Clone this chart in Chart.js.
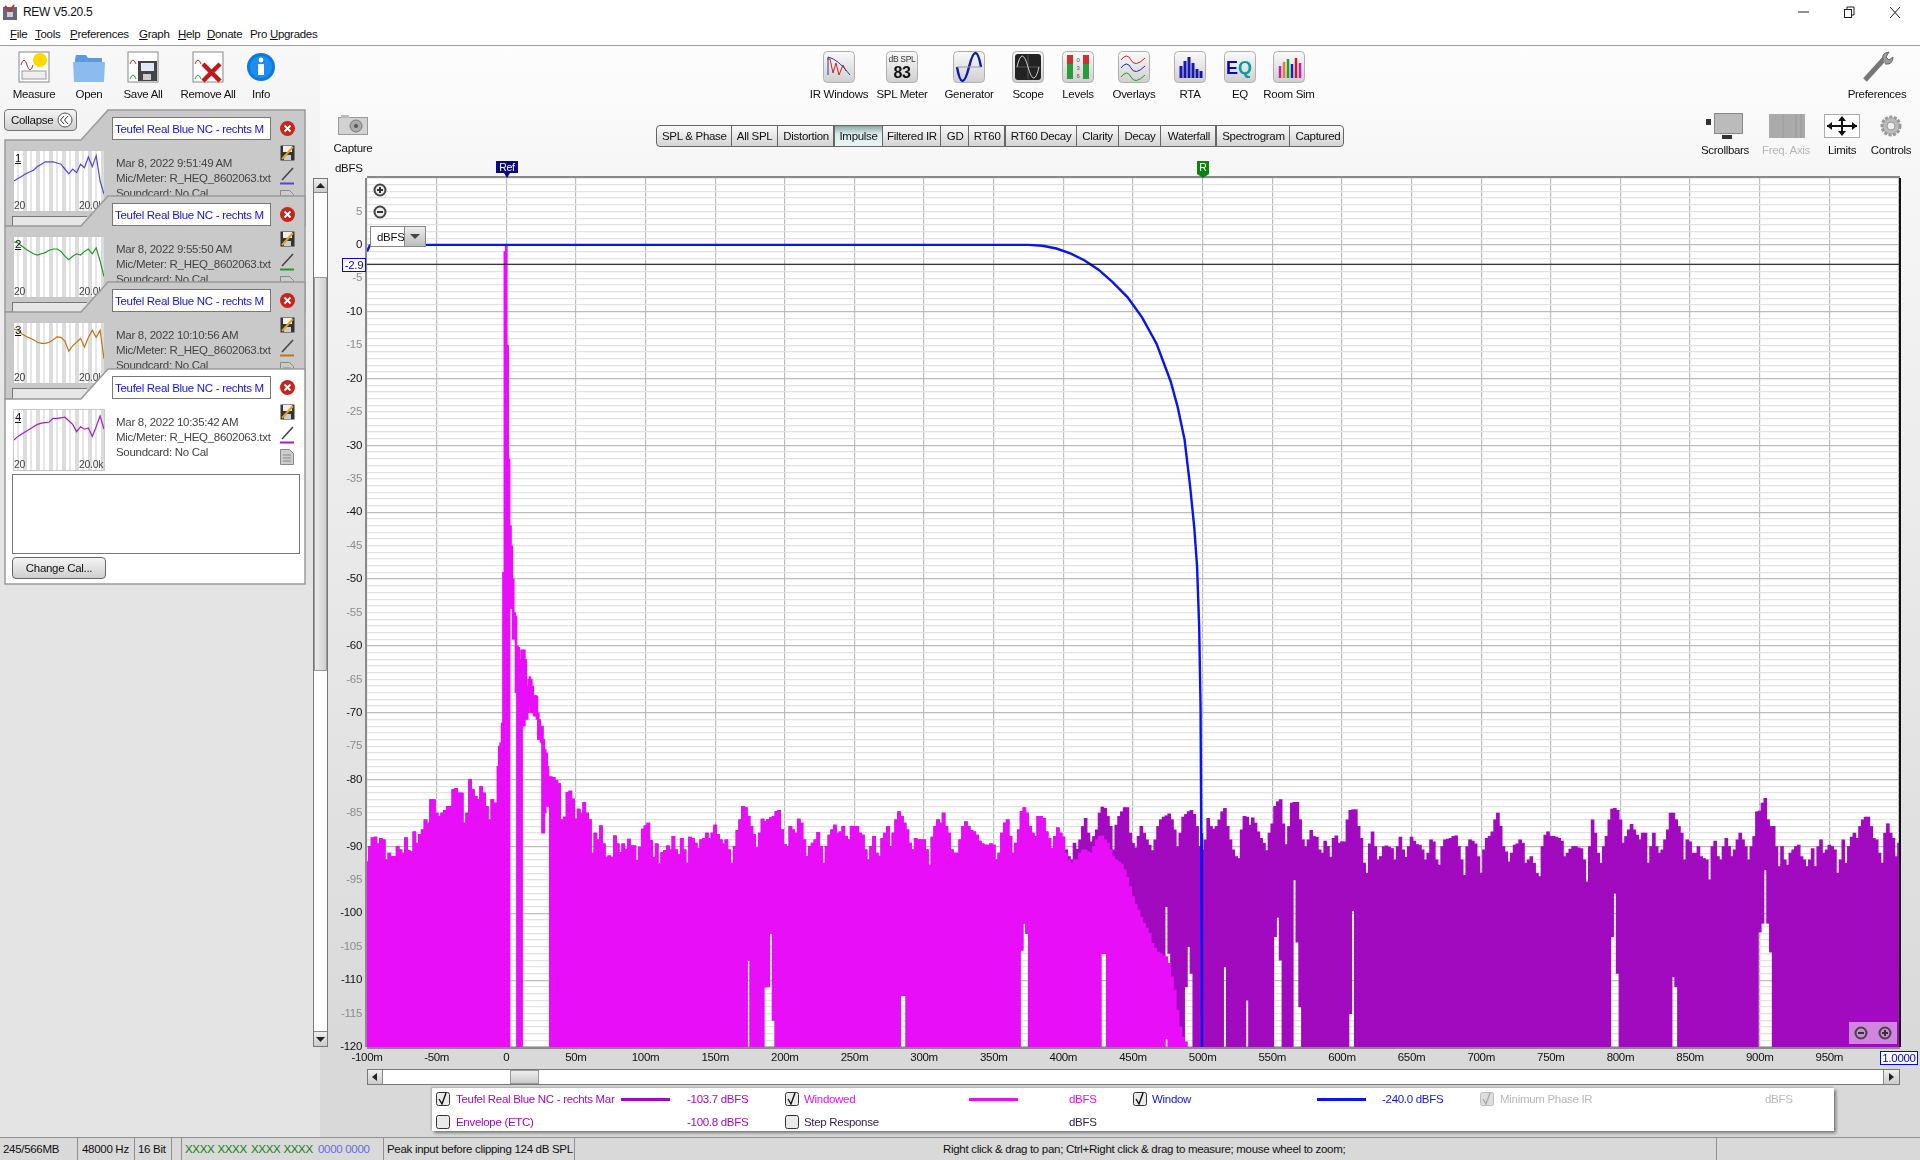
<!DOCTYPE html>
<html>
<head>
<meta charset="utf-8">
<title>REW V5.20.5</title>
<script src="https://cdn.jsdelivr.net/npm/chart.js@4/dist/chart.umd.min.js"></script>
<style>
  html, body { margin: 0; padding: 0; width: 1920px; height: 1160px; overflow: hidden; }
  body { background: linear-gradient(#fdfdfd 46px, #f6f6f6 180px, #d9d9d9 1047px); font: 11.5px "Liberation Sans", sans-serif; color: #111; letter-spacing: -.3px; }
  #ui div, #ui span { position: absolute; white-space: nowrap; box-sizing: border-box; }
  #ui svg { position: absolute; overflow: visible; }
  #under, #over { position: absolute; left: 0; top: 0; }
  #chart { position: absolute; left: 0; top: 0; }
</style>
</head>
<body>
<div id="ui">
  <div id="under"></div>
  <canvas id="chart" width="1920" height="1160"></canvas>
  <div id="over"></div>
</div>
<script>
// top of the column for the raw impulse response (dBFS), one value per 2 ms from -100 ms to 1000 ms
const noiseTop = [
  -92.3,-90,-88.7,-88.6,-89.6,-88.8,-89,-92,-91,-91.5,-91.5,-90,-90.5,-91,-88.7,-90.6,-90.8,-87.8,-89.5,-88.2,-87.5,-86,-86.5,-83,-83,
  -85,-85.5,-85,-84.6,-84,-84,-81.5,-81.3,-82,-82,-86.5,-85,-80,-81.5,-82.5,-83,-81,-82,-84,-86,-83,-83.5,null,null,null,
  null,null,null,null,null,null,null,null,null,null,null,null,null,null,null,null,-79.6,-79.7,-80.1,-80.6,-86,-85.6,-81.9,-81.7,-82.9,
  -85.9,-84.4,-85,-83.4,-85,-86,-91,-88,-89,-86.9,-89.6,-91.6,-91.4,-91.6,-88.4,-89.6,-90.9,-89.6,-90.4,-88.9,-89.9,-89.9,-92.1,-90.1,-87.4,
  -86.9,-86.5,-89.1,-91.6,-89.6,-92.6,-90.9,-90.6,-89.9,-90.5,-88.5,-90.5,-91.2,-88.8,-90.5,-92.5,-88.6,-88.8,-89.5,-90.3,-89,-88.8,-88,-88.8,-88,
  -86.8,-88.2,-89,-89.6,-89,-90.5,-92.5,-90,-87.6,-86,-84,-84.2,-85.5,-87,-88.2,-90.2,-88,-85.9,-86.3,-86,-85.7,-85.5,-84.8,-84.6,-87.5,
  -89.7,-90,-87,-87.5,-88,-85.9,-86.5,-89,-91.5,-90,-89.5,-89,-87.9,-90,-92.5,-90,-88.3,-87.5,-86.8,-88,-87.8,-87,-88.5,-89,-87,
  -87,-87,-88,-88.3,-90.5,-92,-90,-88.5,-91,-91.5,-88.8,-88,-87,-90,-88,-86,-84.8,-85.5,-86.5,-87.5,-89.5,-90.5,-88.8,-89,-89,
  -89,-90.5,-92.8,-88.6,-87,-86,-86.5,-85,-87,-88,-90.5,-91,-91,-89,-87,-86.3,-87,-87.6,-87.8,-88.3,-89.2,-89.6,-89.8,-89.8,-89.6,
  -89.8,-92,-91,-88,-86.5,-86,-88.5,-91,-89.5,-87.5,-84.8,-84.2,-85,-87,-88,-88.5,-85.5,-85.5,-85.8,-87.8,-88.8,-90.3,-88.5,-87.2,-88,
  -88.6,-90.5,-91.5,-92,-89.5,-90.4,-89,-87,-85.8,-88,-89.3,-88.5,-87.5,-85,-84.1,-84.3,-85.5,-87,-90.5,-86.8,-85.5,-84.8,-84.2,-84.2,-88,
  -89.5,-90.2,-88.5,-87,-88,-89,-89.8,-90.6,-89,-87,-86,-85.6,-85.4,-85.1,-86,-87.5,-90,-88,-85.6,-85.2,-84.8,-84.6,-85.2,-87,-90,
  -90.5,-89,-85.8,-87,-87.4,-87,-86,-84.8,-84.3,-87,-89,-90.5,-91.5,-91.8,-87.5,-85.5,-85.6,-86.8,-85.7,-86.5,-87.8,-88.8,-89.5,-90.6,-88,
  -86.6,-84,-83.3,-83,-86.6,-89.7,-87,-83.5,-83.4,-83.4,-86,-89,-90,-89,-87.6,-88.5,-88.6,-90.5,-91,-89.2,-90,-91.6,-88.8,-88.4,-89.5,
  -89.3,-89.3,-86,-84.6,-84.5,-84.5,-87,-88.8,-92.5,-94,-89.6,-87.8,-90,-92,-91.5,-90,-89.9,-90.1,-90.3,-92,-90,-88.6,-90.5,-91.6,-90,
  -88.6,-89.2,-89.7,-89.8,-90.5,-92,-91,-89,-89.3,-92,-92.8,-90,-89,-88.9,-88.8,-88.5,-88.4,-90,-92,-94.3,-90,-89,-89.2,-89.6,-91.5,
  -94,-90.5,-88.8,-88.5,-87.8,-86,-85,-87,-90,-90.8,-92.3,-91,-89.8,-89.6,-89,-89.5,-92.5,-92,-91.5,-92.5,-94,-94.5,-90,-88.3,-87.8,
  -88.5,-88.5,-88.6,-88.8,-89.2,-91.5,-91,-90.4,-90,-90,-90.2,-90.3,-92,-95.3,-90,-86,-88,-91,-92.5,-90,-88.5,-86,-84.4,-84.3,-84.6,
  -86,-89.5,-88.5,-87.5,-86.7,-87.5,-88.3,-89,-88,-88,-92.5,-90,-88,-90,-91,-90.5,-89,-87.5,-85,-85,-86,-87,-88,-92,-89,
  -89.3,-91,-91,-90,-91.5,-91.8,-92,-95,-90,-89.2,-91.5,-92,-90,-88.8,-90,-91.5,-90.5,-89,-88,-89,-90,-92,-90,-88.5,-84.8,
  -84.7,-83.5,-82.8,-86,-87,-87,-90,-93,-90,-92,-92.8,-91,-90.5,-90,-89.8,-91.5,-92,-93,-92,-90.3,-93,-90,-89,-91,-90.5,
  -89.8,-90,-90.5,-94,-92,-89,-92.5,-90,-88.6,-88,-88.8,-87,-86,-85.6,-85.6,-87,-88.8,-89,-91,-92.5,-88,-86.6,-88,-88.8,-91.5,
  -89.5
];
const binMs = 2;
const startMs = -100;

// columns that do not reach down to -120: white notches in the noise floor
const notchMs    = [174,186,188,190,192,284,286,370,372,374,428,430,474,476,488,490,492,516,532,552,554,556,566,568,570,606,608,794,796,798,838,840,900,902,904,906,908];
const notchFloor = [-107,-111,-111,-103,-116,-112.3,-112.3,-105.5,-101.5,-103,-106,-106,-99,-106,-111,-105,-109,-108,-113,-103.5,-100.6,-107,-95,-104.3,-114,-115,-99.6,-103.5,-97,-109,-109.5,-111,-102.8,-101.5,-93.5,-101.5,-105.8];

// windowed trace follows the raw one up to 400 ms, then falls away under the window
const windowedSharedUntilMs = 400;
const windowedTail = [-91,-92,-92.5,-92,-92,-91,-90.5,-90.5,-90.8,-91,-90,-89,-88.5,-88.4,-89,-89.5,-90.5,-91.5,-92,-92.3,-92.6,-93.5,-94.6,-96,-97.5,-98.7,-99.5,-100.6,-101.5,-102.2,-103,-104.5,-105.2,-105.8,-106,-106.3,-106.5,-107.5,-109.5,-111.5,-114.5,-117,-118.5,-119.2];

// the impulse itself, 1 ms columns
const peakMs  = [-6,-5,-4,-3,-2,-1,0,1,2,3,4,5,6,7,8,9,10,11,12,13,14,15,16,17,18,19,20,21,22,23,24,25,26,27,28,29,30];
const peakTop = [-78,-75,-74.5,-71.5,-49,-1,0,-15,-32,-42,-45,-50,-55,-55.5,-60,-60.2,-62,-60.6,-60.6,-60.6,-62,-66,-65,-64.6,-65,-66,-67.4,-67.4,-67.5,-70,-71,-72,-72,-74,-75.5,-76,-78];
const peakLow = [-120,-120,-120,-120,-120,-120,-120,-120,-120,-54.4,-54.4,-59,-59,-67,-120,-120,-120,-120,-72,-72,-71,-71,-70,-69,-70,-70,-70.5,-70.5,-71,-74,-74,-74.5,-88,-88,-85,-84,-84];

// window curve
const windowMs = [-100,-98,-96,375,385,395,405,415,425,435,446,456.5,467,477,482,487,491,494,496,497.5,498.5,499,499.5,499.5];
const windowDb = [-1,-0.1,0,0,-0.14,-0.55,-1.27,-2.3,-3.68,-5.49,-7.82,-10.84,-14.83,-20.4,-24.2,-29.1,-36.1,-42.3,-48.1,-57,-69,-88,-105,-120];

const cursorDb = -2.9;

// measurement panel thumbnails
const thumbTraces = [
  [50,54,58,62,65,68,74,78,82,82,82,80,78,70,62,70,64,78,72,90,74,92,50,28],
  [92,90,85,80,76,72,70,72,74,78,80,80,76,68,62,68,72,70,76,80,72,82,60,34],
  [90,88,82,78,75,72,68,66,66,68,72,77,76,70,53,62,68,74,60,76,88,76,88,40],
  [50,56,60,64,68,72,76,78,79,80,86,86,87,88,82,76,64,72,68,70,56,72,90,68]
];
const thumbColors = ['#4a4ad8', '#1f9a2a', '#c07418', '#a41fc4'];
const thumbTimes = ['Mar 8, 2022 9:51:49 AM', 'Mar 8, 2022 9:55:50 AM', 'Mar 8, 2022 10:10:56 AM', 'Mar 8, 2022 10:35:42 AM'];

const MAGENTA = '#e80ff8';
const PURPLE = '#a10abf';
const BLUE = '#0a14f0';

function columns(times, tops, floorOf) {
  const out = [];
  times.forEach((t, i) => {
    if (tops[i] !== null) out.push({ x: t, y: [floorOf(t, i), tops[i]] });
  });
  return out;
}
const rawMs = noiseTop.map((_, i) => startMs + i * binMs);
const floorAt = t => {
  const i = notchMs.indexOf(t);
  return i < 0 ? -120 : notchFloor[i];
};
const windowedTop = noiseTop.slice(0, (windowedSharedUntilMs - startMs) / binMs + 1).concat(windowedTail);
const windowedMs = windowedTop.map((_, i) => startMs + i * binMs);
const windowedFloor = t => (t === 474 ? -118.8 : t < 440 ? floorAt(t) : -120);

Chart.defaults.font.family = '"Liberation Sans", sans-serif';

new Chart(document.getElementById('chart'), {
  type: 'bar',
  data: {
    datasets: [
      { type: 'line', data: [{ x: -100, y: cursorDb }, { x: 1000, y: cursorDb }], borderColor: '#000', borderWidth: 1.2, pointRadius: 0, order: 0 },
      { type: 'line', data: windowMs.map((t, i) => ({ x: t, y: windowDb[i] })), borderColor: BLUE, borderWidth: 2.4, pointRadius: 0, order: 1 },
      { data: peakMs.map((t, i) => ({ x: t, y: [peakLow[i], peakTop[i]] })), backgroundColor: MAGENTA, barThickness: 2, grouped: false, order: 2 },
      { data: columns(windowedMs, windowedTop, windowedFloor), backgroundColor: MAGENTA, barThickness: 3, grouped: false, order: 3 },
      { data: columns(rawMs, noiseTop, floorAt), backgroundColor: PURPLE, barThickness: 3, grouped: false, order: 4 }
    ]
  },
  options: {
    responsive: false,
    animation: false,
    events: [],
    layout: { padding: { left: 320, right: 21, top: 178, bottom: 83 } },
    plugins: { legend: { display: false }, tooltip: { enabled: false } },
    scales: {
      x: {
        type: 'linear', min: -100, max: 1000, offset: false,
        afterFit: s => { s.height = 30; },
        border: { display: false },
        grid: { offset: false, color: '#bcbcbc', lineWidth: 1.2, drawTicks: false },
        ticks: {
          stepSize: 50, autoSkip: false, maxRotation: 0, padding: 4, color: '#111', font: { size: 11.5 },
          callback: v => (v === 1000 ? '' : v === 0 ? '0' : v + 'm')
        }
      },
      y: {
        min: -120, max: 10,
        afterFit: s => { s.width = 47; },
        border: { display: false },
        grid: { color: c => (c.tick.value % 10 === 0 ? '#bcbcbc' : '#e2e2e2'), lineWidth: 1.2, drawTicks: false },
        ticks: {
          stepSize: 1, autoSkip: false, padding: 5, font: { size: 11.5 },
          color: c => (c.tick.value % 10 === 0 ? '#111' : '#8c8c8c'),
          callback: v => (v % 5 === 0 && v !== 10 ? String(v) : '')
        }
      }
    }
  }
});

// ---- window furniture around the plot ----
const under = document.getElementById('under');
const over = document.getElementById('over');

function box(parent, x, y, w, h, css, html) {
  const d = document.createElement('div');
  d.style.cssText = `left:${x}px;top:${y}px;width:${w}px;height:${h}px;${css || ''}`;
  if (html) d.innerHTML = html;
  parent.appendChild(d);
  return d;
}
function label(parent, str, x, y, css, anchor) {
  const d = document.createElement('span');
  const tx = anchor === 'c' ? 'transform:translateX(-50%);' : anchor === 'r' ? 'transform:translateX(-100%);' : '';
  d.style.cssText = `left:${x}px;top:${y - 8}px;height:16px;line-height:16px;${tx}${css || ''}`;
  d.innerHTML = str;
  parent.appendChild(d);
  return d;
}
function svg(parent, x, y, w, h, inner) {
  const d = document.createElement('div');
  d.style.cssText = `left:${x}px;top:${y}px;width:${w}px;height:${h}px;`;
  d.innerHTML = `<svg width="${w}" height="${h}" viewBox="0 0 ${w} ${h}" style="left:0;top:0">${inner}</svg>`;
  parent.appendChild(d);
}

// plot background sits under the canvas
box(under, 367, 178, 1532, 869, 'background:#fff');
box(under, 0, 46, 320, 1091, 'background:linear-gradient(#f8f8f8,#e4e4e4 40%)');
box(under, 320, 1047, 1600, 90, 'background:#d9d9d9');

// title bar and menu
box(over, 0, 0, 1920, 46, 'background:#fff');
box(over, 0, 45, 1920, 1, 'background:#a0a0a0');
svg(over, 2, 3, 16, 18, '<rect x="1" y="4" width="14" height="13" fill="#667"/><path d="M3 3l5 5 4-6" stroke="#b33" stroke-width="2" fill="none"/><rect x="5" y="9" width="6" height="5" fill="#ccd"/>');
label(over, 'REW V5.20.5', 23, 12, 'font-size:12px');
[['<u>F</u>ile', 10], ['<u>T</u>ools', 35], ['<u>P</u>references', 70], ['<u>G</u>raph', 139], ['<u>H</u>elp', 178], ['<u>D</u>onate', 207], ['Pro <u>U</u>pgrades', 250]]
  .forEach(m => label(over, m[0], m[1], 34));
svg(over, 1795, 4, 110, 16, '<path d="M3 8h11" stroke="#222"/><rect x="49.5" y="5.5" width="7" height="8" fill="#fff" stroke="#222"/><path d="M52 5V3h7v8h-2" fill="none" stroke="#222"/><path d="M95 3l10 11M105 3l-10 11" stroke="#222"/>');

// toolbar
const tile = inner => `<rect x=".5" y=".5" width="31" height="31" rx="4" fill="url(#tg)" stroke="#b0b0b0"/>${inner}`;
svg(over, 0, 0, 1, 1, '<defs><linearGradient id="tg" x1="0" y1="0" x2="0" y2="1"><stop offset="0" stop-color="#fafafa"/><stop offset="1" stop-color="#cfcfcf"/></linearGradient></defs>');
const doc = '<rect x="1" y="1" width="30" height="30" fill="#fff" stroke="#888"/>';
const leftIcons = [
  ['Measure', 34, doc + '<path d="M3 14q3-10 6 0t6 0" stroke="#c22" fill="none"/><circle cx="22" cy="9" r="7" fill="#ffd800"/><rect x="4" y="20" width="24" height="8" fill="#eee" stroke="#999"/>'],
  ['Open', 89, '<path d="M2 8l1-4h10l2 3h14v4H2z" fill="#5a9be0"/><path d="M0 11h32l-1 20H1z" fill="#8cbcef"/>'],
  ['Save All', 143, doc + '<path d="M3 13q3-8 6 0" stroke="#c22" fill="none"/><path d="M3 28q3-8 6 0" stroke="#2a2" fill="none"/><rect x="11" y="10" width="19" height="20" fill="#444"/><rect x="14" y="12" width="13" height="8" fill="#dfe8f5"/><rect x="16" y="23" width="8" height="6" fill="#ccc"/>'],
  ['Remove All', 208, doc + '<path d="M3 13q3-8 6 0" stroke="#c22" fill="none"/><path d="M3 28q3-8 6 0" stroke="#2a2" fill="none"/><path d="M11 13l17 17M28 13L11 30" stroke="#c01818" stroke-width="4.5"/>']
];
leftIcons.forEach(ic => {
  svg(over, ic[1] - 16, 51, 32, 32, ic[2]);
  label(over, ic[0], ic[1], 94, '', 'c');
});
svg(over, 247, 53, 28, 28, '<circle cx="14" cy="14" r="14" fill="#0c7be0"/><circle cx="14" cy="14" r="11" fill="#1d8ef0"/><circle cx="14" cy="7" r="2.4" fill="#fff"/><rect x="11" y="11" width="6" height="11" fill="#fff"/>');
label(over, 'Info', 261, 94, '', 'c');

const toolIcons = [
  ['IR Windows', 839, '<path d="M4 8h3l3 14 3-10 3 12 4-10 3 6" stroke="#c22" fill="none"/><path d="M5 24V6q10 2 22 18" stroke="#14a" fill="none"/>'],
  ['SPL Meter', 902, '<text x="16" y="11" font-size="8.5" text-anchor="middle" fill="#333">dB SPL</text><text x="16" y="27" font-size="16" font-weight="bold" text-anchor="middle" fill="#111">83</text>'],
  ['Generator', 969, '<path d="M4 16q5 28 12 0t12 0" stroke="#0a1ab0" stroke-width="2.4" fill="none" transform="translate(0,0)"/><path d="M4 16h24" stroke="#99a"/>'],
  ['Scope', 1028, '<rect x="3" y="3" width="26" height="26" rx="3" fill="#222"/><path d="M4 16h24M16 4v24" stroke="#555"/><path d="M5 16q5-22 11 0t11 0" stroke="#ccc" fill="none"/>'],
  ['Levels', 1078, '<rect x="5" y="4" width="6" height="24" fill="#2b9a3a"/><rect x="5" y="4" width="6" height="9" fill="#d03030"/><rect x="21" y="4" width="6" height="24" fill="#2b9a3a"/><rect x="21" y="4" width="6" height="9" fill="#d03030"/><text x="16" y="11" font-size="6" text-anchor="middle" fill="#555">0</text><text x="16" y="19" font-size="6" text-anchor="middle" fill="#555">3</text><text x="16" y="27" font-size="6" text-anchor="middle" fill="#555">6</text>'],
  ['Overlays', 1134, '<path d="M3 9q6-8 10 0t14-2" stroke="#c22" fill="none"/><path d="M3 17q6-8 10 0t14-2" stroke="#22c" fill="none"/><path d="M3 26q6-8 10 0t14-2" stroke="#292" fill="none"/>'],
  ['RTA', 1190, '<path d="M7 27V15M11 27V10M15 27V6M19 27V12M23 27V18M27 27V20" stroke="#1616b0" stroke-width="3"/>'],
  ['EQ', 1240, '<text x="2" y="23" font-size="18" font-weight="bold" fill="#0a0aa8">E</text><text x="14" y="23" font-size="18" font-weight="bold" fill="#0a9aa0">Q</text>'],
  ['Room Sim', 1289, '<path d="M7 27V15" stroke="#c01cc0" stroke-width="2.5"/><path d="M11 27V11" stroke="#e08020" stroke-width="2.5"/><path d="M15 27V8" stroke="#20a020" stroke-width="2.5"/><path d="M19 27V13" stroke="#2020c0" stroke-width="2.5"/><path d="M23 27V7" stroke="#c02020" stroke-width="2.5"/><path d="M27 27V12" stroke="#c01cc0" stroke-width="2.5"/>']
];
toolIcons.forEach(ic => {
  svg(over, ic[1] - 16, 51, 32, 32, tile(ic[2]));
  label(over, ic[0], ic[1], 94, '', 'c');
});
svg(over, 1861, 51, 32, 32, '<path d="M4 29L23 8" stroke="#777" stroke-width="5"/><path d="M22 9q-2-7 6-8l-3 5 3 3 4-3q0 8-8 7" fill="#999" stroke="#666"/>');
label(over, 'Preferences', 1877, 94, '', 'c');

// capture, right hand tools
svg(over, 338, 115, 30, 20, '<rect x=".5" y="2.5" width="29" height="17" fill="#d2d2d2" stroke="#999"/><rect x="3" y="0" width="8" height="3" fill="#bbb"/><circle cx="18" cy="11" r="6" fill="#aaa" stroke="#777"/><circle cx="18" cy="11" r="2" fill="#555"/>');
label(over, 'Capture', 353, 148, '', 'c');
svg(over, 1706, 113, 38, 26, '<rect x="8.5" y=".5" width="28" height="20" fill="#bbb" stroke="#888"/><rect x="0" y="6" width="5" height="6" fill="#333"/><rect x="16" y="22" width="10" height="4" fill="#333"/>');
label(over, 'Scrollbars', 1725, 150, '', 'c');
svg(over, 1769, 114, 36, 24, '<rect width="36" height="24" fill="#aaa"/><path d="M14 0v24M27 0v24M32 0v24" stroke="#999"/>');
label(over, 'Freq. Axis', 1786, 150, 'color:#b5b5b5', 'c');
svg(over, 1824, 114, 36, 24, '<rect x=".5" y=".5" width="35" height="23" fill="#fff" stroke="#aaa"/><path d="M18 3v18M3 12h30" stroke="#111" stroke-width="2"/><path d="M14 7l4-5 4 5zM14 17l4 5 4-5zM8 8l-5 4 5 4zM28 8l5 4-5 4z" fill="#111"/>');
label(over, 'Limits', 1842, 150, '', 'c');
svg(over, 1880, 115, 22, 22, '<circle cx="11" cy="11" r="9" fill="#bbb" stroke="#999" stroke-width="3" stroke-dasharray="3 1.5"/><circle cx="11" cy="11" r="4" fill="#eee" stroke="#999"/>');
label(over, 'Controls', 1891, 150, '', 'c');

// graph tabs
const tabNames = ['SPL &amp; Phase', 'All SPL', 'Distortion', 'Impulse', 'Filtered IR', 'GD', 'RT60', 'RT60 Decay', 'Clarity', 'Decay', 'Waterfall', 'Spectrogram', 'Captured'];
const tabEdges = [656, 730.6, 776.7, 833.5, 881.6, 940.4, 967.8, 1004.5, 1075.5, 1117.6, 1160.4, 1215.5, 1289.4, 1344.5];
tabNames.forEach((n, i) => {
  const on = n === 'Impulse';
  const w = tabEdges[i + 1] - tabEdges[i];
  const rad = i === 0 ? 'border-radius:4px 0 0 4px;' : i === tabNames.length - 1 ? 'border-radius:0 4px 4px 0;' : '';
  const bg = on ? 'linear-gradient(#8fa5a5,#d8ecec 40%,#e8f4f4)' : 'linear-gradient(#fafafa,#d4d4d4)';
  const b = box(over, tabEdges[i], 125, w + (i === tabNames.length - 1 ? 0 : 1), 22, `background:${bg};border:1px solid #666;${rad}`);
  label(b, n, w / 2, 10, '', 'c');
});

// plot frame, markers and overlays
box(over, 367, 176, 1533, 2, 'background:#8a8a8a');
box(over, 365, 178, 2, 869, 'background:#8a8a8a');
box(over, 1899, 178, 1.5, 869, 'background:#111');
box(over, 367, 1047, 1533, 1.5, 'background:#8a8a8a');
label(over, 'dBFS', 335, 168);
svg(over, 496, 161, 22, 17, `<path d="M0 0h22v12h-8l-3 5-3-5H0z" fill="#0a0a80"/><text x="11" y="10" font-size="10.5" fill="#fff" text-anchor="middle">Ref</text>`);
svg(over, 1197, 161, 12, 17, `<path d="M0 0h12v13l-6 4-6-4z" fill="#0c840c"/><text x="6" y="10" font-size="10.5" fill="#fff" text-anchor="middle">R</text>`);
const zoomIcon = (plus) => `<circle cx="7" cy="7" r="5.5" fill="#eee" stroke="#444" stroke-width="2"/><path d="M4 7h6${plus ? 'M7 4v6' : ''}" stroke="#333" stroke-width="2"/>`;
svg(over, 373, 183, 14, 14, zoomIcon(true));
svg(over, 373, 205, 14, 14, zoomIcon(false));
const dd = box(over, 370, 226, 56, 21, 'background:#fff;border:1px solid #888');
label(dd, 'dBFS', 6, 10);
box(dd, 33, 0, 21, 19, 'background:linear-gradient(#eee,#bbb);border-left:1px solid #888', '<svg width="21" height="19"><path d="M5 7h10l-5 5z" fill="#444"/></svg>');
const curBox = box(over, 342, 258, 24, 14, 'background:#fff;border:1px solid #00f;');
label(curBox, '-2.9', 11, 6, 'color:#00f', 'c');
const endBox = box(over, 1880, 1051, 38, 14, 'background:#fff;border:1.5px solid #00f;');
label(endBox, '1.0000', 18, 5.5, 'color:#00f', 'c');
box(over, 1849, 1022, 48, 22, 'background:rgba(255,255,255,.5)');
svg(over, 1854, 1026, 14, 14, zoomIcon(false).replace('#eee', 'none'));
svg(over, 1878, 1026, 14, 14, zoomIcon(true).replace('#eee', 'none'));

// scrollbars
box(over, 313, 178, 15, 869, 'background:#fff;border:1px solid #777');
box(over, 314, 179, 13, 14, 'background:linear-gradient(#eee,#ccc);border-bottom:1px solid #888', '<svg width="13" height="14"><path d="M2 9h9L6.500 4z" fill="#222"/></svg>');
box(over, 314, 277, 13, 394, 'background:linear-gradient(90deg,#ececec,#cfcfcf);border:1px solid #999');
box(over, 314, 1031, 13, 15, 'background:linear-gradient(#eee,#ccc);border-top:1px solid #888', '<svg width="13" height="14"><path d="M2 5h9L6.500 10z" fill="#222"/></svg>');
box(over, 367, 1069, 1533, 16, 'background:#fff;border:1px solid #777');
box(over, 368, 1070, 15, 14, 'background:linear-gradient(#eee,#ccc);border-right:1px solid #888', '<svg width="14" height="14"><path d="M9 3v8L4 7z" fill="#222"/></svg>');
box(over, 510, 1070, 29, 14, 'background:linear-gradient(#eee,#ccc);border:1px solid #999');
box(over, 1883, 1070, 16, 14, 'background:linear-gradient(#eee,#ccc);border-left:1px solid #888', '<svg width="14" height="14"><path d="M5 3v8l5-4z" fill="#222"/></svg>');

// legend panel
box(over, 432, 1088, 1402, 43, 'background:#fff;box-shadow:2px 2px 3px #777,-1px -1px 2px #aaa');
function check(x, y, on, dim) {
  const c = dim ? '#bdbdbd' : '#333';
  svg(over, x, y - 7, 14, 14, `<rect x=".5" y=".5" width="13" height="13" rx="2" fill="${dim ? '#ddd' : '#eaeaea'}" stroke="${c}"/>` + (on ? `<path d="M3 7l3 5 4-11" fill="none" stroke="${dim ? '#aaa' : '#111'}" stroke-width="1.4"/>` : ''));
}
function swatch(x, w, y, col) { box(over, x, y - 1, w, 2.5, `background:${col}`); }
const legRow1 = 1099, legRow2 = 1122;
check(436, legRow1, true);
label(over, 'Teufel Real Blue NC - rechts Mar', 456, legRow1, `color:${PURPLE};width:162px;overflow:hidden;`);
swatch(621, 49, legRow1, PURPLE);
label(over, '-103.7 dBFS', 687, legRow1, `color:${PURPLE}`);
check(785, legRow1, true);
label(over, 'Windowed', 804, legRow1, `color:${MAGENTA}`);
swatch(969, 49, legRow1, MAGENTA);
label(over, 'dBFS', 1069, legRow1, `color:${MAGENTA}`);
check(1133, legRow1, true);
label(over, 'Window', 1152, legRow1, 'color:#1414e0');
swatch(1317, 49, legRow1, BLUE);
label(over, '-240.0 dBFS', 1382, legRow1, 'color:#1414e0');
check(1480, legRow1, true, true);
label(over, 'Minimum Phase IR', 1500, legRow1, 'color:#b8b8b8');
label(over, 'dBFS', 1765, legRow1, 'color:#b8b8b8');
check(436, legRow2, false);
label(over, 'Envelope (ETC)', 456, legRow2, `color:${PURPLE}`);
label(over, '-100.8 dBFS', 687, legRow2, `color:${PURPLE}`);
check(785, legRow2, false);
label(over, 'Step Response', 804, legRow2, 'color:#35204a');
label(over, 'dBFS', 1069, legRow2, 'color:#35204a');

// status bar
box(over, 0, 1137, 1920, 23, 'background:#d9d9d9;border-top:1.5px solid #8f8f8f');
[77, 133.5, 171, 181, 383, 574, 1716].forEach(x => box(over, x, 1138, 1, 22, 'background:#8f8f8f'));
const statusY = 1149;
label(over, '245/566MB', 3, statusY);
label(over, '48000 Hz', 82, statusY);
label(over, '16 Bit', 138, statusY);
label(over, 'XXXX XXXX', 185, statusY, 'color:#0c800c');
label(over, 'XXXX XXXX', 251, statusY, 'color:#0c800c');
label(over, '0000 0000', 318, statusY, 'color:#6a6ae0');
label(over, 'Peak input before clipping 124 dB SPL', 387, statusY);
label(over, 'Right click &amp; drag to pan; Ctrl+Right click &amp; drag to measure; mouse wheel to zoom;', 943, statusY);

// measurement panel
const cardTops = [110, 196, 282, 369];
const collapse = box(over, 4, 109, 73, 22, 'background:linear-gradient(#f4f4f4,#cfcfcf);border:1px solid #777;border-radius:4px');
label(collapse, 'Collapse', 6, 10);
svg(collapse, 52, 2, 16, 16, '<circle cx="8" cy="8" r="7" fill="#fff" stroke="#555"/><path d="M7 4L3.500 8 7 12M11 4L7.500 8l3.500 4" fill="none" stroke="#333"/>');

const stripes = 'repeating-linear-gradient(90deg,#fff 0 3px,#e6e6e6 3px 5px,#fff 5px 9px,#dcdcdc 9px 13px)';
cardTops.forEach((top, i) => {
  const active = i === cardTops.length - 1;
  const bottom = active ? 584 : cardTops[i + 1] + 30;
  const fill = active ? '#fff' : '#c9c9c9';
  const h = bottom - top;
  svg(over, 5, top, 300, h, `<path d="M0 30h76L103 0h197v${h}H0z" fill="${fill}" stroke="#9a9a9a" stroke-width="1.5"/>`);
  box(over, 112, top + 7, 159, 23, 'background:#fff;border:1px solid #777');
  label(over, 'Teufel Real Blue NC - rechts M', 115, top + 19, 'color:#1212e8;width:154px;overflow:hidden');
  svg(over, 280, top + 11, 15, 15, '<circle cx="7.500" cy="7.500" r="7.500" fill="#c8231c"/><path d="M4.500 4.500l6 6M10.500 4.500l-6 6" stroke="#fff" stroke-width="2"/>');
  box(over, 13, top + 40, 92, 62, `background:${stripes};border:1px solid #c8c8c8`);
  const cv = document.createElement('canvas');
  cv.width = 90; cv.height = 60;
  cv.style.cssText = `position:absolute;left:14px;top:${top + 41}px`;
  over.appendChild(cv);
  new Chart(cv, {
    type: 'line',
    data: { labels: thumbTraces[i].map((_, k) => k), datasets: [{ data: thumbTraces[i], borderColor: thumbColors[i], borderWidth: 1.2, pointRadius: 0 }] },
    options: {
      responsive: false, animation: false, events: [],
      layout: { padding: 0 },
      plugins: { legend: { display: false }, tooltip: { enabled: false } },
      scales: { x: { display: false }, y: { display: false, min: 0, max: 100 } }
    }
  });
  label(over, String(i + 1), 15, top + 48, 'text-decoration:underline');
  label(over, '20', 14, top + 95, 'color:#444;font-size:10.5px');
  label(over, '20.0k', 79, top + 95, 'color:#444;font-size:10.5px');
  label(over, thumbTimes[i], 116, top + 53, 'color:#444');
  label(over, 'Mic/Meter: R_HEQ_8602063.txt', 116, top + 68, 'color:#444');
  label(over, 'Soundcard: No Cal', 116, top + 83, 'color:#444');
  svg(over, 280, top + 35, 15, 16, '<rect x=".5" y=".5" width="14" height="15" fill="#333"/><rect x="3" y="1" width="9" height="6" fill="#eee"/><rect x="4" y="10" width="7" height="5" fill="#ccc"/><path d="M2 14L13 2" stroke="#e0a020" stroke-width="2"/>');
  svg(over, 280, top + 57, 15, 18, `<path d="M2 13L13 1" stroke="#444" stroke-width="1.6"/><rect x="0" y="15.500" width="14" height="2" fill="${thumbColors[i]}"/>`);
  svg(over, 280, top + 80, 14, 16, '<path d="M.5.500h9l4 4v11H.5z" fill="#ccc" stroke="#888"/><path d="M3 6h8M3 9h8M3 12h8" stroke="#888"/>');
  if (!active) box(over, 12, top + 106, 75, 11, 'background:#e6e6e6;border-left:1px solid #777;border-top:1px solid #777');
});
box(over, 12, 474, 288, 80, 'background:#fff;border:1px solid #777');
const cal = box(over, 12, 557, 94, 22, 'background:linear-gradient(#f4f4f4,#cfcfcf);border:1px solid #666;border-radius:4px');
label(cal, 'Change Cal...', 46, 10, '', 'c');
</script>
</body>
</html>
